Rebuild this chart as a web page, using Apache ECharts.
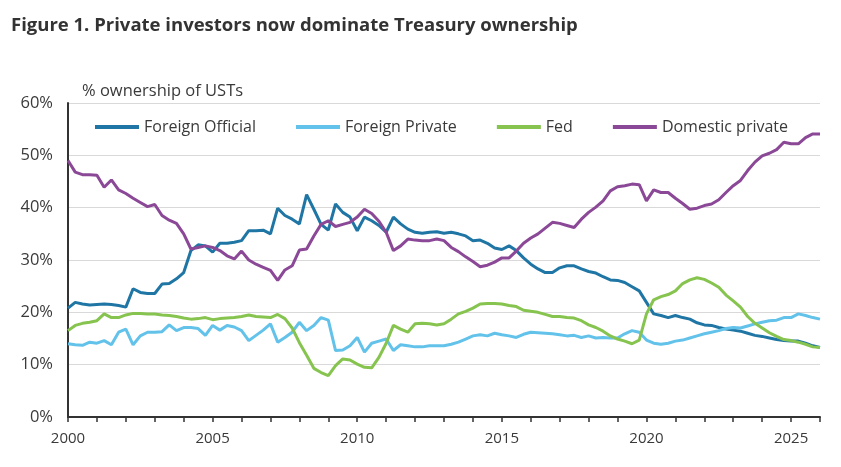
<!DOCTYPE html>
<html>
<head>
<meta charset="utf-8">
<script src="https://cdn.jsdelivr.net/npm/echarts@6/dist/echarts.min.js"></script>
<style>
  html, body { margin: 0; background: #fff; }
  #chart { width: 841px; height: 467px; }
</style>
</head>
<body>
<div id="chart"></div>
<script>
  // quarterly shares of UST ownership, %, 2000Q1 .. 2026Q1
  var startYear = 2000;

  var foreignOfficial = [
    20.8, 21.9, 21.6, 21.4,  21.5, 21.6, 21.5, 21.3,  21.0, 24.5, 23.8, 23.6,  23.6, 25.4, 25.5, 26.4,
    27.6, 31.8, 32.9, 32.7,  31.5, 33.2, 33.2, 33.4,  33.7, 35.6, 35.6, 35.7,  35.0, 39.9, 38.5, 37.8,
    36.9, 42.5, 39.7, 36.8,  35.7, 40.7, 39.1, 38.2,  35.6, 38.2, 37.5, 36.6,  35.3, 38.2, 36.9, 35.9,
    35.3, 35.1, 35.3, 35.4,  35.1, 35.3, 35.0, 34.6,  33.7, 33.8, 33.2, 32.3,  32.0, 32.7, 31.8, 30.4,
    29.2, 28.3, 27.6, 27.6,  28.5, 28.9, 28.9, 28.3,  27.8, 27.5, 26.8, 26.2,  26.1, 25.7, 24.9, 24.1,
    21.9, 19.7, 19.4, 19.0,  19.4, 19.0, 18.7, 18.0,  17.6, 17.5, 17.1, 16.8,  16.6, 16.4, 16.0, 15.6,
    15.4, 15.1, 14.8, 14.6,  14.5, 14.5, 14.1, 13.6,  13.3
  ];
  var foreignPrivate = [
    14.0, 13.8, 13.7, 14.3,  14.1, 14.6, 13.8, 16.2,  16.8, 13.8, 15.5, 16.2,  16.2, 16.3, 17.6, 16.5,
    17.1, 17.1, 16.9, 15.6,  17.5, 16.6, 17.5, 17.2,  16.5, 14.6, 15.6, 16.6,  17.8, 14.3, 15.2, 16.2,
    18.1, 16.5, 17.5, 19.0,  18.5, 12.7, 12.8, 13.6,  15.2, 12.4, 14.1, 14.5,  14.9, 12.7, 13.8, 13.6,
    13.4, 13.4, 13.6, 13.6,  13.6, 13.9, 14.3, 14.9,  15.5, 15.7, 15.5, 16.0,  15.7, 15.5, 15.2, 15.8,
    16.2, 16.1, 16.0, 15.9,  15.7, 15.5, 15.6, 15.2,  15.5, 15.1, 15.2, 15.1,  15.1, 15.9, 16.5, 16.2,
    14.7, 14.1, 13.9, 14.1,  14.5, 14.7, 15.1, 15.5,  15.9, 16.2, 16.5, 16.9,  17.1, 17.0, 17.4, 17.8,
    18.1, 18.4, 18.5, 19.0,  19.0, 19.7, 19.4, 19.0,  18.7
  ];
  var fed = [
    16.5, 17.5, 17.9, 18.1,  18.4, 19.7, 19.0, 19.0,  19.5, 19.8, 19.8, 19.7,  19.7, 19.5, 19.4, 19.2,
    18.9, 18.7, 18.8, 19.0,  18.6, 18.8, 18.9, 19.0,  19.2, 19.5, 19.2, 19.1,  19.0, 19.6, 18.8, 17.0,
    14.2, 11.8, 9.3, 8.5,    7.9, 9.8, 11.1, 10.9,    10.1, 9.5, 9.4, 11.4,    14.1, 17.5, 16.8, 16.2,
    17.8, 17.9, 17.8, 17.6,  17.8, 18.7, 19.7, 20.2,  20.8, 21.6, 21.7, 21.7,  21.6, 21.3, 21.1, 20.4,
    20.2, 20.0, 19.6, 19.2,  19.2, 19.0, 18.9, 18.4,  17.6, 17.1, 16.4, 15.5,  14.9, 14.5, 14.0, 14.7,
    19.7, 22.4, 23.0, 23.4,  24.1, 25.5, 26.2, 26.6,  26.3, 25.6, 24.8, 23.3,  22.2, 21.0, 19.2, 17.9,
    17.0, 16.1, 15.4, 14.8,  14.6, 14.3, 13.9, 13.4,  13.3
  ];
  var domesticPrivate = [
    49.0, 46.8, 46.3, 46.3,  46.2, 43.9, 45.3, 43.4,  42.7, 41.8, 41.0, 40.2,  40.6, 38.5, 37.6, 37.0,
    35.0, 32.1, 32.4, 32.7,  32.4, 31.8, 30.8, 30.2,  31.7, 30.0, 29.2, 28.6,  28.0, 26.1, 28.1, 28.9,
    31.9, 32.1, 34.6, 36.8,  37.5, 36.4, 36.8, 37.2,  38.2, 39.7, 38.9, 37.4,  35.3, 31.8, 32.7, 34.0,
    33.8, 33.7, 33.7, 34.0,  33.7, 32.4, 31.6, 30.6,  29.7, 28.7, 29.0, 29.6,  30.4, 30.4, 31.7, 33.2,
    34.2, 35.0, 36.1, 37.2,  37.0, 36.6, 36.2, 37.8,  39.1, 40.1, 41.3, 43.2,  44.0, 44.2, 44.5, 44.4,
    41.3, 43.4, 42.9, 42.9,  41.8, 40.8, 39.7, 39.9,  40.4, 40.7, 41.5, 42.9,  44.2, 45.2, 47.1, 48.7,
    49.9, 50.4, 51.1, 52.5,  52.2, 52.2, 53.4, 54.1,  54.1
  ];

  var seriesNames = ["Foreign Official", "Foreign Private", "Fed", "Domestic private"];
  var seriesColors = ["#1f76a5", "#62c2ea", "#86c44f", "#8b4897"];
  var yTicks = [0, 10, 20, 30, 40, 50, 60];

  var quarters = [];
  for (var i = 0; i < foreignOfficial.length; i++) {
    quarters.push((startYear + Math.floor(i / 4)) + "Q" + (i % 4 + 1));
  }

  var font = "'Open Sans', 'Noto Sans', sans-serif";
  var textColor = "#3a3a3a";

  function isYearStart(v) { return v.slice(4) === "Q1"; }

  var chart = echarts.init(document.getElementById("chart"));
  chart.setOption({
    animation: false,
    color: seriesColors,
    title: [
      {
        text: "Figure 1. Private investors now dominate Treasury ownership",
        left: 6, top: 11,
        textStyle: { fontFamily: font, fontSize: 18.5, fontWeight: "bold", color: "#333" }
      },
      {
        text: "% ownership of USTs",
        left: 77, top: 78,
        textStyle: { fontFamily: font, fontSize: 16.5, fontWeight: "normal", color: textColor }
      }
    ],
    legend: {
      data: seriesNames,
      left: 90, top: 114,
      icon: "rect",
      itemWidth: 44, itemHeight: 4,
      itemGap: 40,
      textStyle: { fontFamily: font, fontSize: 16, color: textColor }
    },
    grid: { left: 68, right: 21, top: 103, bottom: 50 },
    xAxis: {
      type: "category",
      data: quarters,
      boundaryGap: false,
      axisLine: { lineStyle: { color: "#333", width: 2 } },
      axisTick: {
        interval: function (idx, v) { return isYearStart(v); },
        length: 5,
        lineStyle: { color: "#333", width: 1.5 }
      },
      axisLabel: {
        interval: function (idx, v) { return isYearStart(v) && (+v.slice(0, 4)) % 5 === 0; },
        formatter: function (v) { return v.slice(0, 4); },
        margin: 14,
        fontFamily: font, fontSize: 15, color: textColor
      },
      splitLine: { show: false }
    },
    yAxis: {
      type: "value",
      min: yTicks[0], max: yTicks[yTicks.length - 1], interval: 10,
      axisLine: { show: true, lineStyle: { color: "#333", width: 2 } },
      axisTick: { show: false },
      axisLabel: {
        formatter: function (v) { return v + "%"; },
        margin: 15,
        fontFamily: font, fontSize: 16.5, color: textColor
      },
      splitLine: { lineStyle: { color: "#d9d9d9", width: 1.2 } }
    },
    series: [foreignOfficial, foreignPrivate, fed, domesticPrivate].map(function (d, k) {
      return {
        name: seriesNames[k],
        type: "line",
        data: d,
        symbol: "none",
        lineStyle: { width: 3 }
      };
    })
  });
</script>
</body>
</html>
